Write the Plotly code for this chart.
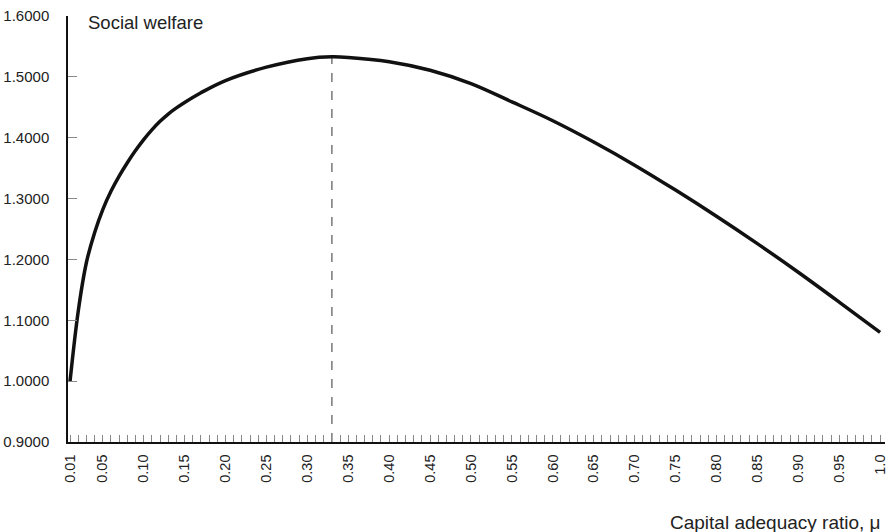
import plotly.graph_objects as go

# Data
mu = [0.01, 0.02, 0.03, 0.04, 0.05, 0.06, 0.07, 0.08, 0.09, 0.10, 0.11, 0.12,
      0.13, 0.14, 0.15, 0.17, 0.20, 0.25, 0.30, 0.33, 0.35, 0.40, 0.45, 0.50,
      0.55, 0.60, 0.65, 0.70, 0.75, 0.80, 0.85, 0.90, 0.95, 1.00]
welfare = [1.000, 1.115, 1.195, 1.244, 1.282, 1.312, 1.337, 1.359, 1.379, 1.397,
           1.413, 1.427, 1.439, 1.449, 1.458, 1.474, 1.494, 1.516, 1.530, 1.533,
           1.532, 1.525, 1.511, 1.489, 1.459, 1.428, 1.393, 1.355, 1.314, 1.271,
           1.226, 1.179, 1.130, 1.080]

optimum_mu = 0.33
optimum_welfare = 1.533

x_tick_positions = [round(0.01 * i, 2) for i in range(1, 101)]
x_label_map = {0.01: "0.01", 0.05: "0.05", 0.10: "0.10", 0.15: "0.15", 0.20: "0.20",
               0.25: "0.25", 0.30: "0.30", 0.35: "0.35", 0.40: "0.40", 0.45: "0.45",
               0.50: "0.50", 0.55: "0.55", 0.60: "0.60", 0.65: "0.65", 0.70: "0.70",
               0.75: "0.75", 0.80: "0.80", 0.85: "0.85", 0.90: "0.90", 0.95: "0.95",
               1.00: "1.0"}
x_tick_text = [x_label_map.get(v, "") for v in x_tick_positions]

y_ticks = [0.9, 1.0, 1.1, 1.2, 1.3, 1.4, 1.5, 1.6]
y_tick_text = ["0.9000", "1.0000", "1.1000", "1.2000", "1.3000", "1.4000", "1.5000", "1.6000"]

FONT = "Liberation Sans, Arial, sans-serif"
TXT = "#222222"

fig = go.Figure()
fig.add_trace(go.Scatter(
    x=mu, y=welfare, mode="lines",
    line=dict(color="#111111", width=3.5, shape="spline", smoothing=1.0),
    hoverinfo="x+y", showlegend=False,
))

fig.add_shape(type="line", x0=optimum_mu, x1=optimum_mu, y0=0.9, y1=optimum_welfare,
              xref="x", yref="y", line=dict(color="#777777", width=1.5, dash="dash"),
              layer="below")

fig.update_layout(
    width=888, height=532,
    margin=dict(l=68, r=3, t=16, b=90),
    plot_bgcolor="white", paper_bgcolor="white",
    font=dict(family=FONT, size=15, color=TXT),
    xaxis=dict(
        range=[0.0075, 1.006], automargin=False,
        tickmode="array", tickvals=x_tick_positions, ticktext=x_tick_text,
        tickangle=-90, ticks="inside", ticklen=7, tickcolor="#888888", tickwidth=1,
        showline=True, linecolor="#111111", linewidth=1.5,
        showgrid=False, zeroline=False, ticklabelstandoff=5,
        tickfont=dict(size=14.5, color=TXT),
    ),
    yaxis=dict(
        range=[0.9, 1.6001], automargin=False,
        tickmode="array", tickvals=y_ticks, ticktext=y_tick_text,
        ticks="inside", ticklen=9, tickcolor="#888888", tickwidth=1,
        showline=True, linecolor="#111111", linewidth=1.5,
        showgrid=False, zeroline=False,
        ticklabelstandoff=14,
        tickfont=dict(size=15, color=TXT),
    ),
    annotations=[
        dict(text="Social welfare", xref="paper", yref="paper", x=0.022, y=0.985,
             xanchor="left", yanchor="middle", showarrow=False,
             font=dict(size=18.5, color=TXT, family=FONT)),
        dict(text="Capital adequacy ratio, μ", xref="paper", yref="paper", x=0.998,
             y=-0.188, xanchor="right", yanchor="middle", showarrow=False,
             font=dict(size=19, color=TXT, family=FONT)),
    ],
)

fig.write_html(
    "out.html",
    config={"displayModeBar": False},
    post_script="document.body.style.margin='0';document.body.style.overflow='hidden';",
)
